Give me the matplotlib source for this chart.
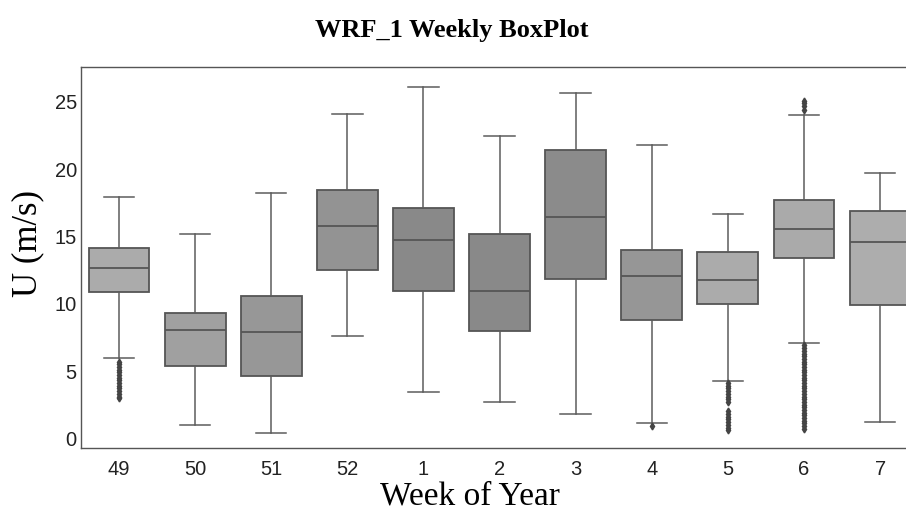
import matplotlib
matplotlib.use("Agg")
import matplotlib.pyplot as plt

# Werte (U in m/s)
weeks = ["49", "50", "51", "52", "1", "2", "3", "4", "5", "6", "7"]
whislo = [5.97, 1.00, 0.38, 7.58, 3.41, 2.71, 1.82, 1.17, 4.23, 7.06, 1.22]
q1 = [10.89, 5.37, 4.63, 12.50, 10.96, 7.98, 11.86, 8.82, 9.96, 13.39, 9.94]
med = [12.62, 8.08, 7.88, 15.75, 14.73, 10.96, 16.42, 12.08, 11.73, 15.55, 14.61]
q3 = [14.17, 9.34, 10.54, 18.46, 17.12, 15.16, 21.42, 14.02, 13.82, 17.69, 16.87]
whishi = [17.97, 15.18, 18.24, 24.07, 26.13, 22.48, 25.69, 21.77, 16.70, 24.00, 19.75]
fliers = [
    [5.7, 5.5, 5.3, 5.1, 4.9, 4.7, 4.5, 4.3, 4.1, 3.9, 3.7, 3.5, 3.3, 3.1, 3.0],
    [], [], [], [], [], [],
    [0.9],
    [4.1, 3.9, 3.7, 3.5, 3.3, 3.1, 2.9, 2.7, 2.0, 1.8, 1.6, 1.4, 1.2, 1.0, 0.8, 0.6],
    [25.1, 24.9, 24.7, 24.4, 6.9, 6.7, 6.5, 6.3, 6.1, 5.9, 5.7, 5.5, 5.3, 5.1, 4.9,
     4.7, 4.5, 4.3, 4.1, 3.9, 3.7, 3.5, 3.3, 3.1, 2.9, 2.7, 2.5, 2.3, 2.1, 1.9,
     1.7, 1.5, 1.3, 1.1, 0.9, 0.7],
    [],
]
box_colors = ["#ababab", "#a0a0a0", "#979797", "#939393", "#898989", "#898989",
              "#8b8b8b", "#969696", "#ababab", "#aaaaaa", "#adadad"]

stats = []
for i in range(len(weeks)):
    stats.append(dict(whislo=whislo[i], q1=q1[i], med=med[i], q3=q3[i],
                      whishi=whishi[i], fliers=fliers[i], label=weeks[i]))

fig = plt.figure(figsize=(9.06, 5.15), dpi=100)
ax = fig.add_axes([0.0894, 0.1307, 0.9106, 0.7393])

line_col = "#555555"
bp = ax.bxp(stats, positions=range(len(weeks)), widths=0.8, patch_artist=True,
            boxprops=dict(edgecolor=line_col, linewidth=1.3),
            medianprops=dict(color=line_col, linewidth=1.3),
            whiskerprops=dict(color="#5c5c5c", linewidth=1.1),
            capprops=dict(color="#5c5c5c", linewidth=1.1),
            flierprops=dict(marker="d", markersize=3.5, markerfacecolor="#444444",
                            markeredgecolor="#444444", linestyle="none"),
            capwidths=0.4)
for patch, c in zip(bp["boxes"], box_colors):
    patch.set_facecolor(c)

ax.set_xlim(-0.5, 10.34)
ax.set_ylim(-0.7, 27.6)
ax.set_yticks([0, 5, 10, 15, 20, 25])
ax.set_xticks(range(len(weeks)))
ax.set_xticklabels(weeks)
ax.tick_params(length=0, labelsize=14.5, colors="#222222")
ax.tick_params(axis="x", pad=9)
ax.tick_params(axis="y", pad=3)
for lab in ax.get_xticklabels() + ax.get_yticklabels():
    lab.set_fontfamily("Liberation Sans")

for s in ["left", "top", "bottom"]:
    ax.spines[s].set_color("#555555")
    ax.spines[s].set_linewidth(1.0)
ax.spines["right"].set_visible(False)

fig.text(452 / 906, 1 - 30 / 515, "WRF_1 Weekly BoxPlot", ha="center", va="center",
         fontsize=19, fontweight="bold", family="Liberation Serif")
fig.text(470 / 906, 1 - 496 / 515, "Week of Year", ha="center", va="center",
         fontsize=24, family="Liberation Serif")
fig.text(28 / 906, 1 - 243 / 515, "U (m/s)", ha="center", va="center", rotation=90,
         fontsize=25, family="Liberation Serif")

fig.savefig("out.png", dpi=100)
